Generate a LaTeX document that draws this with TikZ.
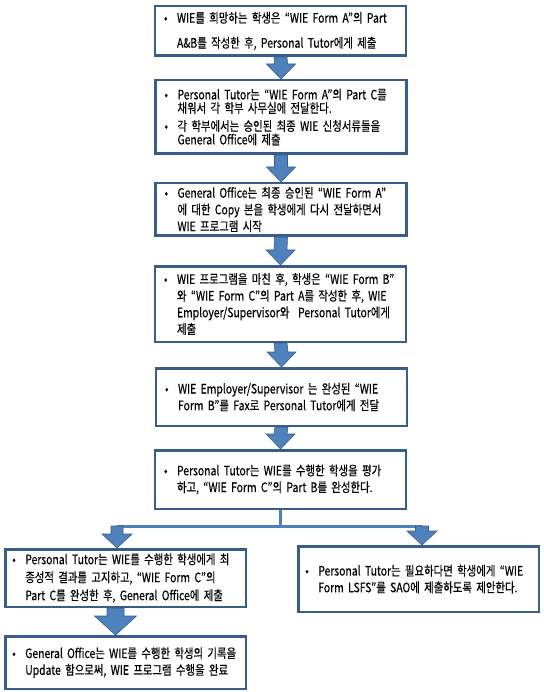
\documentclass[tikz,border=0pt]{standalone}
\usepackage{fontspec}
\setmainfont{Noto Sans CJK KR}[FakeStretch=0.8, FakeBold=0.4]
\usetikzlibrary{calc}
\setlength{\parindent}{0pt}
\definecolor{boxline}{RGB}{56,93,138}
\definecolor{arrowfill}{RGB}{79,129,189}
\def\bl{\hspace*{3pt}\makebox[13pt][l]{•}}
\def\ind{\hspace*{16pt}}
\def\flowarrow(#1)(#2)(#3:#4:#5){\draw[blockarrow] ($(#1)+(-#3,0)$) -- ($(#2)+(-#3,-#5)$) -- ($(#2)+(-#4,-#5)$) -- (#2) -- ($(#2)+(#4,-#5)$) -- ($(#2)+(#3,-#5)$) -- ($(#1)+(#3,0)$) -- cycle;}
\tikzset{
  flowbox/.style={draw=boxline, line width=2.5pt, fill=white, inner xsep=6pt, inner ysep=1pt,
    text width=239pt, minimum height=#1, align=left, font=\fontsize{13}{16.7}\selectfont},
  sidebox/.style={flowbox=#1, inner xsep=4pt, text width=232.5pt},
  blockarrow/.style={draw=boxline, line width=0.6pt, fill=arrowfill},
  splitline/.style={draw=arrowfill, line width=3pt}
}
\begin{document}
\begin{tikzpicture}[x=1pt, y=-1pt]
			%%%%% START %%%%%
			\useasboundingbox (0,0) rectangle (543,692);
			
			\node[flowbox=49.5pt, font=\fontsize{13}{25}\selectfont] (b1) at (280.5,31) {\bl WIE를 희망하는 학생은 “WIE Form A”의 Part\\\ind A\&B를 작성한 후, Personal Tutor에게 제출};
			\node[flowbox=73.5pt, font=\fontsize{13}{13.5}\selectfont] (b2) at (281,117) {\bl Personal Tutor는 “WIE Form A”의 Part C를\\\ind 채워서 각 학부 사무실에 전달한다.\par\vspace{4.5pt}\bl 각 학부에서는 승인된 최종 WIE 신청서류들을\\\ind General Office에 제출};
			\node[flowbox=52.5pt] (b3) at (281,209.5) {\bl General Office는 최종 승인된 “WIE Form A”\\\ind 에 대한 Copy 본을 학생에게 다시 전달하면서\\\ind WIE 프로그램 시작};
			\node[flowbox=75.5pt] (b4) at (280.5,304) {\bl WIE 프로그램을 마친 후, 학생은 “WIE Form B”\\\ind 와 “WIE Form C”의 Part A를 작성한 후, WIE\\\ind Employer/Supervisor와 \ Personal Tutor에게\\\ind 제출};
			\node[flowbox=57.5pt] (b5) at (281.5,397) {\bl WIE Employer/Supervisor 는 완성된 “WIE\\\ind Form B”를 Fax로 Personal Tutor에게 전달};
			\node[flowbox=58.5pt] (b6) at (280.5,479.5) {\bl Personal Tutor는 WIE를 수행한 학생을 평가\\\ind 하고, “WIE Form C”의 Part B를 완성한다.};
			
			\node[sidebox=57.5pt, font=\fontsize{13}{18}\selectfont] (b7) at (125.5,578) {\bl Personal Tutor는 WIE를 수행한 학생에게 최\\\ind 종성적 결과를 고지하고, “WIE Form C”의\\\ind Part C를 완성한 후, General Office에 제출};
			\node[sidebox=52.5pt] (b8) at (125.5,662.5) {\bl General Office는 WIE를 수행한 학생의 기록을\\\ind Update 함으로써, WIE 프로그램 수행을 완료};
			\node[sidebox=65.5pt] (b9) at (418.5,579) {\bl Personal Tutor는 필요하다면 학생에게 “WIE\\\ind Form LSFS”를 SAO에 제출하도록 제안한다.};
			
			\flowarrow(b1.south)(b2.north)(6.5:14.5:15)
			\flowarrow(b2.south)(b3.north)(6.5:14.5:15)
			\flowarrow(b3.south)(b4.north)(6.5:14.5:15)
			\flowarrow(b4.south)(b5.north)(6.5:14.5:15)
			\flowarrow(b5.south)(b6.north)(6.5:14.5:15)
			
			\coordinate (barL) at (117,526);
			\coordinate (barR) at (422,526);
			\draw[splitline] (b6.south) -- (b6.south |- barL);
			\draw[splitline] (barL) -- (barR);
			\flowarrow(barL)(barL |- b7.north)(6:15:14)
			\flowarrow(barR)(barR |- b9.north)(6.5:15:14)
			
			\coordinate (low7) at ($(b7.south)+(-10,0)$);
			\flowarrow(low7)(low7 |- b8.north)(8.5:21:19)
			
			%%%%% END %%%%%
		\end{tikzpicture}
\end{document}
